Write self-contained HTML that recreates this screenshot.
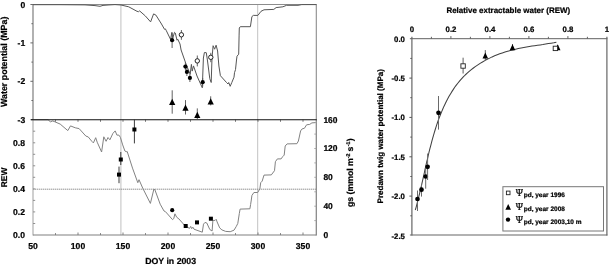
<!DOCTYPE html>
<html lang="en"><head><meta charset="utf-8"><title>Figure</title>
<style>html,body{margin:0;padding:0;background:#fff}svg{display:block}svg text{stroke:#000;stroke-width:0.22px;stroke-linejoin:round}</style></head>
<body>
<svg width="609" height="265" viewBox="0 0 609 265" font-family="'Liberation Sans', sans-serif" font-weight="bold" fill="#000" text-rendering="geometricPrecision">
<rect x="0" y="0" width="609" height="265" fill="#fff"/>
<line x1="120.9" y1="4.5" x2="120.9" y2="235.0" stroke="#cdcdcd" stroke-width="1.25"/>
<line x1="257.6" y1="4.5" x2="257.6" y2="235.0" stroke="#cdcdcd" stroke-width="1.25"/>
<line x1="33.0" y1="189.2" x2="316.3" y2="189.2" stroke="#8c8c8c" stroke-width="0.95" stroke-dasharray="1.4,0.6"/>
<line x1="33.0" y1="4.5" x2="316.3" y2="4.5" stroke="#8c8c8c" stroke-width="1"/>
<line x1="33.0" y1="4.0" x2="33.0" y2="119.7" stroke="#727272" stroke-width="1.1"/>
<line x1="33.0" y1="119.7" x2="33.0" y2="235.5" stroke="#a8a8a8" stroke-width="1.1"/>
<line x1="316.3" y1="4.0" x2="316.3" y2="119.7" stroke="#8c8c8c" stroke-width="1.1"/>
<line x1="316.3" y1="119.7" x2="316.3" y2="235.5" stroke="#858585" stroke-width="1.25"/>
<line x1="33.0" y1="235.0" x2="316.3" y2="235.0" stroke="#808080" stroke-width="1.05"/>
<line x1="30.4" y1="4.5" x2="33.0" y2="4.5" stroke="#6a6a6a" stroke-width="1"/>
<line x1="31.4" y1="23.7" x2="33.0" y2="23.7" stroke="#6a6a6a" stroke-width="1"/>
<line x1="30.4" y1="42.9" x2="33.0" y2="42.9" stroke="#6a6a6a" stroke-width="1"/>
<line x1="31.4" y1="62.1" x2="33.0" y2="62.1" stroke="#6a6a6a" stroke-width="1"/>
<line x1="30.4" y1="81.3" x2="33.0" y2="81.3" stroke="#6a6a6a" stroke-width="1"/>
<line x1="31.4" y1="100.5" x2="33.0" y2="100.5" stroke="#6a6a6a" stroke-width="1"/>
<line x1="30.4" y1="119.7" x2="33.0" y2="119.7" stroke="#6a6a6a" stroke-width="1"/>
<line x1="33.0" y1="131.2" x2="35.2" y2="131.2" stroke="#8c8c8c" stroke-width="0.95"/>
<line x1="33.0" y1="142.8" x2="35.2" y2="142.8" stroke="#8c8c8c" stroke-width="0.95"/>
<line x1="33.0" y1="154.3" x2="35.2" y2="154.3" stroke="#8c8c8c" stroke-width="0.95"/>
<line x1="33.0" y1="165.8" x2="35.2" y2="165.8" stroke="#8c8c8c" stroke-width="0.95"/>
<line x1="33.0" y1="177.3" x2="35.2" y2="177.3" stroke="#8c8c8c" stroke-width="0.95"/>
<line x1="33.0" y1="188.9" x2="35.2" y2="188.9" stroke="#8c8c8c" stroke-width="0.95"/>
<line x1="33.0" y1="200.4" x2="35.2" y2="200.4" stroke="#8c8c8c" stroke-width="0.95"/>
<line x1="33.0" y1="211.9" x2="35.2" y2="211.9" stroke="#8c8c8c" stroke-width="0.95"/>
<line x1="33.0" y1="223.5" x2="35.2" y2="223.5" stroke="#8c8c8c" stroke-width="0.95"/>
<line x1="314.3" y1="134.1" x2="316.3" y2="134.1" stroke="#a0a0a0" stroke-width="0.9"/>
<line x1="314.3" y1="148.5" x2="316.3" y2="148.5" stroke="#a0a0a0" stroke-width="0.9"/>
<line x1="314.3" y1="162.9" x2="316.3" y2="162.9" stroke="#a0a0a0" stroke-width="0.9"/>
<line x1="314.3" y1="177.3" x2="316.3" y2="177.3" stroke="#a0a0a0" stroke-width="0.9"/>
<line x1="314.3" y1="191.8" x2="316.3" y2="191.8" stroke="#a0a0a0" stroke-width="0.9"/>
<line x1="314.3" y1="206.2" x2="316.3" y2="206.2" stroke="#a0a0a0" stroke-width="0.9"/>
<line x1="314.3" y1="220.6" x2="316.3" y2="220.6" stroke="#a0a0a0" stroke-width="0.9"/>
<line x1="55.5" y1="119.7" x2="55.5" y2="121.9" stroke="#777" stroke-width="0.9"/>
<line x1="55.5" y1="233.1" x2="55.5" y2="235.0" stroke="#7c7c7c" stroke-width="0.95"/>
<line x1="78.0" y1="119.7" x2="78.0" y2="121.9" stroke="#777" stroke-width="0.9"/>
<line x1="78.0" y1="232.5" x2="78.0" y2="235.0" stroke="#7c7c7c" stroke-width="0.95"/>
<line x1="100.5" y1="119.7" x2="100.5" y2="121.9" stroke="#777" stroke-width="0.9"/>
<line x1="100.5" y1="233.1" x2="100.5" y2="235.0" stroke="#7c7c7c" stroke-width="0.95"/>
<line x1="123.0" y1="119.7" x2="123.0" y2="121.9" stroke="#777" stroke-width="0.9"/>
<line x1="123.0" y1="232.5" x2="123.0" y2="235.0" stroke="#7c7c7c" stroke-width="0.95"/>
<line x1="145.5" y1="119.7" x2="145.5" y2="121.9" stroke="#777" stroke-width="0.9"/>
<line x1="145.5" y1="233.1" x2="145.5" y2="235.0" stroke="#7c7c7c" stroke-width="0.95"/>
<line x1="168.0" y1="119.7" x2="168.0" y2="121.9" stroke="#777" stroke-width="0.9"/>
<line x1="168.0" y1="232.5" x2="168.0" y2="235.0" stroke="#7c7c7c" stroke-width="0.95"/>
<line x1="190.5" y1="119.7" x2="190.5" y2="121.9" stroke="#777" stroke-width="0.9"/>
<line x1="190.5" y1="233.1" x2="190.5" y2="235.0" stroke="#7c7c7c" stroke-width="0.95"/>
<line x1="213.0" y1="119.7" x2="213.0" y2="121.9" stroke="#777" stroke-width="0.9"/>
<line x1="213.0" y1="232.5" x2="213.0" y2="235.0" stroke="#7c7c7c" stroke-width="0.95"/>
<line x1="235.5" y1="119.7" x2="235.5" y2="121.9" stroke="#777" stroke-width="0.9"/>
<line x1="235.5" y1="233.1" x2="235.5" y2="235.0" stroke="#7c7c7c" stroke-width="0.95"/>
<line x1="258.0" y1="119.7" x2="258.0" y2="121.9" stroke="#777" stroke-width="0.9"/>
<line x1="258.0" y1="232.5" x2="258.0" y2="235.0" stroke="#7c7c7c" stroke-width="0.95"/>
<line x1="280.5" y1="119.7" x2="280.5" y2="121.9" stroke="#777" stroke-width="0.9"/>
<line x1="280.5" y1="233.1" x2="280.5" y2="235.0" stroke="#7c7c7c" stroke-width="0.95"/>
<line x1="303.0" y1="119.7" x2="303.0" y2="121.9" stroke="#777" stroke-width="0.9"/>
<line x1="303.0" y1="232.5" x2="303.0" y2="235.0" stroke="#7c7c7c" stroke-width="0.95"/>
<polyline points="33.0,119.8 48.1,119.8 50.4,121.8 52.7,121.0 54.9,121.8 60.2,124.1 67.8,130.6 70.5,125.9 75.3,127.8 79.1,128.6 85.9,136.1 88.2,136.9 91.9,141.4 93.4,142.9 95.7,137.7 97.2,142.2 101.6,152.0 103.8,136.8 106.1,141.3 108.0,137.5 109.9,139.8 112.9,133.4 115.2,130.9 116.9,135.1 118.9,135.1 120.4,137.4 122.7,144.9 124.9,151.0 126.2,151.7 127.2,151.5 132.5,168.1 137.8,182.7 139.0,179.7 142.8,188.3 150.4,203.4 153.9,189.1 154.9,189.8 160.2,204.2 164.0,211.0 165.5,211.7 172.5,219.6 173.8,218.5 174.9,213.8 176.7,217.2 178.9,218.9 184.9,225.7 189.5,228.4 190.7,226.4 191.7,228.7 192.9,227.2 194.0,229.2 202.3,232.2 203.5,224.2 205.0,222.4 206.8,223.0 209.8,229.5 212.1,231.0 212.9,220.4 215.1,220.4 216.2,219.3 217.1,221.9 219.7,227.9 221.9,229.9 225.7,231.4 230.2,231.7 234.0,230.2 236.3,226.4 237.8,223.4 239.3,213.6 240.1,209.1 249.9,208.8 250.6,204.5 251.3,200.0 251.9,195.5 253.9,192.5 257.7,192.5 259.9,188.7 260.7,182.7 262.2,181.1 264.0,175.1 271.3,174.9 274.5,170.7 275.4,161.7 277.4,158.9 281.1,158.9 282.7,156.6 284.2,155.1 285.2,146.0 287.1,143.9 296.9,143.7 298.4,141.0 300.6,130.9 302.1,128.9 304.4,128.3 306.6,124.8 309.7,124.4 311.9,122.9 315.7,122.6" fill="none" stroke="#828282" stroke-width="1" stroke-linejoin="round"/>
<polyline points="33.0,4.7 60.0,4.7 85.0,4.9 95.0,5.6 100.0,6.3 103.0,5.4 108.0,5.0 115.0,4.6 121.0,5.0 128.7,6.8 137.0,11.3 138.5,11.7 139.6,10.9 145.3,15.9 150.6,21.9 153.6,13.9 155.9,15.1 161.5,24.0 164.5,29.3 165.4,28.9 166.4,30.8 170.6,39.5 171.8,32.5 172.8,38.0 174.5,32.3 175.3,33.0 177.0,40.2 177.7,39.1 180.0,44.0 181.1,50.0 186.4,65.1 190.2,74.2 191.4,64.4 192.2,71.1 193.5,65.9 197.0,76.0 202.3,87.8 203.4,58.0 204.4,52.5 206.3,52.7 207.4,60.0 209.8,78.7 211.2,82.5 212.0,58.0 213.1,45.7 214.6,49.2 216.1,45.2 217.6,51.0 218.9,66.0 220.4,75.7 226.5,82.5 228.0,84.0 228.7,82.5 230.2,86.3 231.8,82.5 234.0,77.2 234.5,72.7 235.5,69.6 236.5,60.0 237.0,56.2 238.7,54.2 239.1,35.1 239.3,28.0 240.3,26.7 250.4,26.7 251.9,16.6 253.4,15.4 257.9,15.4 261.0,11.3 264.0,9.8 273.8,9.4 276.1,7.6 282.9,6.8 286.6,5.3 298.0,5.3 301.8,4.6 316.3,4.6" fill="none" stroke="#555" stroke-width="1" stroke-linejoin="round"/>
<line x1="31.0" y1="119.7" x2="316.8" y2="119.7" stroke="#111" stroke-width="1.1"/>
<line x1="172.1" y1="32.5" x2="172.1" y2="48" stroke="#5a5a5a" stroke-width="0.95"/>
<circle cx="172.1" cy="40.2" r="2.1" fill="#000"/>
<line x1="185.4" y1="62" x2="185.4" y2="70" stroke="#5a5a5a" stroke-width="0.95"/>
<circle cx="185.4" cy="66.6" r="2.1" fill="#000"/>
<line x1="186.9" y1="68" x2="186.9" y2="76" stroke="#5a5a5a" stroke-width="0.95"/>
<circle cx="186.9" cy="71.9" r="2.1" fill="#000"/>
<line x1="189.9" y1="74" x2="189.9" y2="82" stroke="#5a5a5a" stroke-width="0.95"/>
<circle cx="189.9" cy="77.9" r="2.1" fill="#000"/>
<line x1="202.7" y1="78" x2="202.7" y2="86.5" stroke="#5a5a5a" stroke-width="0.95"/>
<circle cx="202.7" cy="82.2" r="2.1" fill="#000"/>
<line x1="181.4" y1="30" x2="181.4" y2="39.8" stroke="#5a5a5a" stroke-width="0.95"/>
<circle cx="181.4" cy="34.8" r="2.2" fill="#fff" stroke="#222" stroke-width="1"/>
<line x1="197.3" y1="55.5" x2="197.3" y2="66.4" stroke="#5a5a5a" stroke-width="0.95"/>
<circle cx="197.3" cy="60.9" r="2.2" fill="#fff" stroke="#222" stroke-width="1"/>
<line x1="210.8" y1="52.8" x2="210.8" y2="62.2" stroke="#5a5a5a" stroke-width="0.95"/>
<circle cx="210.8" cy="57.3" r="2.2" fill="#fff" stroke="#222" stroke-width="1"/>
<line x1="172.2" y1="90.3" x2="172.2" y2="113.7" stroke="#5a5a5a" stroke-width="0.95"/>
<polygon points="172.2,98.8 175.3,105.0 169.1,105.0" fill="#000"/>
<line x1="185.5" y1="100.1" x2="185.5" y2="114.5" stroke="#5a5a5a" stroke-width="0.95"/>
<polygon points="185.5,104.6 188.6,110.8 182.4,110.8" fill="#000"/>
<line x1="197.3" y1="108.4" x2="197.3" y2="119" stroke="#5a5a5a" stroke-width="0.95"/>
<polygon points="197.3,111.8 200.4,118.0 194.2,118.0" fill="#000"/>
<line x1="210.7" y1="96.3" x2="210.7" y2="105.4" stroke="#5a5a5a" stroke-width="0.95"/>
<polygon points="210.7,98.2 213.8,104.4 207.6,104.4" fill="#000"/>
<line x1="134.4" y1="119.5" x2="134.4" y2="143.4" stroke="#333" stroke-width="0.95"/>
<rect x="132.4" y="127.5" width="4.0" height="4.0" fill="#000"/>
<line x1="120.8" y1="152" x2="120.8" y2="165" stroke="#333" stroke-width="0.95"/>
<rect x="118.8" y="157.5" width="4.0" height="4.0" fill="#000"/>
<line x1="119" y1="166.6" x2="119" y2="183.2" stroke="#333" stroke-width="0.95"/>
<rect x="117.0" y="172.6" width="4.0" height="4.0" fill="#000"/>
<rect x="183.7" y="224.0" width="4.0" height="4.0" fill="#000"/>
<rect x="195.0" y="220.4" width="4.0" height="4.0" fill="#000"/>
<rect x="208.9" y="216.7" width="4.0" height="4.0" fill="#000"/>
<circle cx="172.2" cy="210.2" r="2.1" fill="#000"/>
<text x="25.2" y="7.7" font-size="8.6" text-anchor="end" >0</text>
<text x="25.2" y="46.3" font-size="8.6" text-anchor="end" >-1</text>
<text x="25.2" y="83.9" font-size="8.6" text-anchor="end" >-2</text>
<text x="25.2" y="123.0" font-size="8.6" text-anchor="end" >-3</text>
<text x="25.0" y="145.6" font-size="8.6" text-anchor="end" >0.8</text>
<text x="25.0" y="168.8" font-size="8.6" text-anchor="end" >0.6</text>
<text x="25.0" y="192.1" font-size="8.6" text-anchor="end" >0.4</text>
<text x="25.0" y="215.2" font-size="8.6" text-anchor="end" >0.2</text>
<text x="25.0" y="238.2" font-size="8.6" text-anchor="end" >0.0</text>
<text x="33.0" y="249.0" font-size="8.6" text-anchor="middle" >50</text>
<text x="78.0" y="249.0" font-size="8.6" text-anchor="middle" >100</text>
<text x="123.0" y="249.0" font-size="8.6" text-anchor="middle" >150</text>
<text x="168.0" y="249.0" font-size="8.6" text-anchor="middle" >200</text>
<text x="213.0" y="249.0" font-size="8.6" text-anchor="middle" >250</text>
<text x="258.0" y="249.0" font-size="8.6" text-anchor="middle" >300</text>
<text x="303.0" y="249.0" font-size="8.6" text-anchor="middle" >350</text>
<text x="323.4" y="122.60000000000001" font-size="8.45" text-anchor="start" >160</text>
<text x="323.4" y="150.9" font-size="8.45" text-anchor="start" >120</text>
<text x="323.4" y="179.70000000000002" font-size="8.45" text-anchor="start" >80</text>
<text x="323.4" y="209.4" font-size="8.45" text-anchor="start" >40</text>
<text x="323.4" y="238.4" font-size="8.45" text-anchor="start" >0</text>
<text x="145.2" y="264.0" font-size="8.75" text-anchor="start" >DOY in 2003</text>
<text transform="translate(7.4,107) rotate(-90)" font-size="8.9">Water potential (MPa)</text>
<text transform="translate(7.0,187.2) rotate(-90)" font-size="8.4">REW</text>
<text transform="translate(352.7,207) rotate(-90)" font-size="8.7">gs (mmol m<tspan font-size="5.4" dy="-3.2">-2</tspan><tspan dy="3.2" dx="-0.4"> s</tspan><tspan font-size="5.4" dy="-3.2" dx="0.3">-1</tspan><tspan dy="3.2" dx="0.3">)</tspan></text>
<line x1="409.9" y1="38.7" x2="607.4" y2="38.7" stroke="#606060" stroke-width="1.0"/>
<line x1="411.9" y1="36.7" x2="411.9" y2="235.5" stroke="#666" stroke-width="1.2"/>
<line x1="606.9" y1="36.7" x2="606.9" y2="235.5" stroke="#666" stroke-width="1.2"/>
<line x1="409.9" y1="235.0" x2="607.4" y2="235.0" stroke="#666" stroke-width="1.1"/>
<line x1="431.4" y1="36.800000000000004" x2="431.4" y2="38.7" stroke="#5c5c5c" stroke-width="0.95"/>
<line x1="450.9" y1="36.1" x2="450.9" y2="38.7" stroke="#5c5c5c" stroke-width="0.95"/>
<line x1="470.4" y1="36.800000000000004" x2="470.4" y2="38.7" stroke="#5c5c5c" stroke-width="0.95"/>
<line x1="489.9" y1="36.1" x2="489.9" y2="38.7" stroke="#5c5c5c" stroke-width="0.95"/>
<line x1="509.4" y1="36.800000000000004" x2="509.4" y2="38.7" stroke="#5c5c5c" stroke-width="0.95"/>
<line x1="528.9" y1="36.1" x2="528.9" y2="38.7" stroke="#5c5c5c" stroke-width="0.95"/>
<line x1="548.4" y1="36.800000000000004" x2="548.4" y2="38.7" stroke="#5c5c5c" stroke-width="0.95"/>
<line x1="567.9" y1="36.1" x2="567.9" y2="38.7" stroke="#5c5c5c" stroke-width="0.95"/>
<line x1="587.4" y1="36.800000000000004" x2="587.4" y2="38.7" stroke="#5c5c5c" stroke-width="0.95"/>
<line x1="410.29999999999995" y1="58.4" x2="411.9" y2="58.4" stroke="#555" stroke-width="1"/>
<line x1="409.4" y1="78.1" x2="411.9" y2="78.1" stroke="#555" stroke-width="1"/>
<line x1="410.29999999999995" y1="97.7" x2="411.9" y2="97.7" stroke="#555" stroke-width="1"/>
<line x1="409.4" y1="117.4" x2="411.9" y2="117.4" stroke="#555" stroke-width="1"/>
<line x1="410.29999999999995" y1="137.1" x2="411.9" y2="137.1" stroke="#555" stroke-width="1"/>
<line x1="409.4" y1="156.8" x2="411.9" y2="156.8" stroke="#555" stroke-width="1"/>
<line x1="410.29999999999995" y1="176.5" x2="411.9" y2="176.5" stroke="#555" stroke-width="1"/>
<line x1="409.4" y1="196.1" x2="411.9" y2="196.1" stroke="#555" stroke-width="1"/>
<line x1="410.29999999999995" y1="215.8" x2="411.9" y2="215.8" stroke="#555" stroke-width="1"/>
<polyline points="415.3,210.0 416.1,207.3 416.8,204.6 417.5,201.8 418.2,199.2 418.8,196.5 419.5,193.8 420.1,191.1 420.8,188.4 421.4,185.8 422.0,183.1 422.6,180.5 423.2,177.8 423.8,175.2 424.4,172.5 424.9,169.9 425.5,167.3 426.1,164.6 426.7,162.0 427.4,159.3 428.0,156.7 428.6,154.0 429.2,151.4 429.9,148.7 430.6,146.1 431.3,143.4 432.0,140.7 432.7,138.1 433.5,135.4 434.3,132.7 435.1,130.0 435.9,127.4 436.8,124.7 437.7,122.0 438.6,119.4 439.6,116.8 440.6,114.2 441.7,111.6 442.8,109.0 443.9,106.4 445.1,103.9 446.3,101.4 447.6,99.0 448.9,96.6 450.3,94.2 451.7,91.9 453.2,89.6 454.7,87.3 456.3,85.1 458.0,83.0 459.7,80.9 461.5,78.9 463.3,76.9 465.2,75.0 467.2,73.2 469.2,71.4 471.3,69.7 473.4,68.0 475.6,66.4 477.9,64.9 480.1,63.4 482.5,62.0 484.8,60.6 487.2,59.3 489.7,58.1 492.1,56.9 494.6,55.8 497.2,54.8 499.7,53.8 502.3,52.9 505.0,52.1 507.6,51.3 510.3,50.6 512.9,49.9 515.6,49.2 518.3,48.6 521.1,48.1 523.8,47.6 526.5,47.1 529.3,46.6 532.0,46.1 534.7,45.7 537.5,45.3 540.2,44.9 542.9,44.5 545.7,44.0 548.4,43.6 551.1,43.2 553.8,42.8 556.4,42.3" fill="none" stroke="#404040" stroke-width="1.05" stroke-linejoin="round"/>
<line x1="417.5" y1="190.5" x2="417.5" y2="211" stroke="#6a6a6a" stroke-width="1.0"/>
<circle cx="417.5" cy="199.0" r="2.35" fill="#000"/>
<line x1="421.5" y1="184" x2="421.5" y2="196.6" stroke="#6a6a6a" stroke-width="1.0"/>
<circle cx="421.5" cy="189.7" r="2.35" fill="#000"/>
<line x1="425.7" y1="167.5" x2="425.7" y2="188.7" stroke="#6a6a6a" stroke-width="1.0"/>
<circle cx="425.7" cy="176.5" r="2.35" fill="#000"/>
<line x1="427.6" y1="153.5" x2="427.6" y2="180" stroke="#6a6a6a" stroke-width="1.0"/>
<circle cx="427.6" cy="166.8" r="2.35" fill="#000"/>
<line x1="438.5" y1="96.0" x2="438.5" y2="129.6" stroke="#6a6a6a" stroke-width="1.0"/>
<circle cx="438.5" cy="112.8" r="2.35" fill="#000"/>
<line x1="485.3" y1="50.1" x2="485.3" y2="60" stroke="#555" stroke-width="0.95"/>
<polygon points="485.3,52.4 488.1,58.4 482.5,58.4" fill="#000"/>
<line x1="512.5" y1="44" x2="512.5" y2="50" stroke="#555" stroke-width="0.95"/>
<polygon points="512.5,44.2 515.3,50.2 509.7,50.2" fill="#000"/>
<line x1="557.7" y1="45" x2="557.7" y2="50" stroke="#555" stroke-width="0.95"/>
<polygon points="557.7,44.2 560.5,50.2 554.9,50.2" fill="#000"/>
<line x1="463.1" y1="57.7" x2="463.1" y2="73.5" stroke="#555" stroke-width="0.95"/>
<rect x="460.9" y="63.8" width="4.4" height="4.4" fill="#fff" stroke="#222" stroke-width="0.9"/>
<line x1="555.4" y1="46.5" x2="555.4" y2="50.5" stroke="#555" stroke-width="0.95"/>
<rect x="553.2" y="46.2" width="4.4" height="4.4" fill="#fff" stroke="#222" stroke-width="0.9"/>
<text x="446.4" y="13.3" font-size="7.96" text-anchor="start" >Relative extractable water (REW)</text>
<text x="412.0" y="32.2" font-size="7.8" text-anchor="middle" >0</text>
<text x="451.0" y="32.2" font-size="7.8" text-anchor="middle" >0.2</text>
<text x="490.0" y="32.2" font-size="7.8" text-anchor="middle" >0.4</text>
<text x="529.0" y="32.2" font-size="7.8" text-anchor="middle" >0.6</text>
<text x="568.0" y="32.2" font-size="7.8" text-anchor="middle" >0.8</text>
<text x="607.0" y="32.2" font-size="7.8" text-anchor="middle" >1</text>
<text x="404.9" y="41.7" font-size="7.8" text-anchor="end" >0.0</text>
<text x="404.9" y="81.1" font-size="7.8" text-anchor="end" >-0.5</text>
<text x="404.9" y="120.4" font-size="7.8" text-anchor="end" >-1.0</text>
<text x="404.9" y="159.8" font-size="7.8" text-anchor="end" >-1.5</text>
<text x="404.9" y="199.1" font-size="7.8" text-anchor="end" >-2.0</text>
<text x="404.9" y="238.5" font-size="7.8" text-anchor="end" >-2.5</text>
<text transform="translate(383.4,203.4) rotate(-90)" font-size="8.0">Predawn twig water potential (MPa)</text>
<rect x="502.9" y="186.7" width="100.6" height="44.3" fill="#fff" stroke="#777" stroke-width="1"/>
<rect x="506.4" y="191.1" width="3.6" height="3.6" fill="#fff" stroke="#222" stroke-width="0.9"/>
<polygon points="508.2,204.1 511.0,209.7 505.4,209.7" fill="#000"/>
<circle cx="508.0" cy="219.6" r="2.2" fill="#000"/>
<text transform="translate(515.8,195.9) scale(0.92,1)" font-family="'Liberation Serif', 'DejaVu Serif', serif" font-weight="normal" font-size="10.6" stroke="#000" stroke-width="0.15">&#936;</text>
<text x="523.7" y="197.0" font-size="6.5">pd, year 1996</text>
<text transform="translate(515.8,209.7) scale(0.92,1)" font-family="'Liberation Serif', 'DejaVu Serif', serif" font-weight="normal" font-size="10.6" stroke="#000" stroke-width="0.15">&#936;</text>
<text x="523.7" y="210.8" font-size="6.5">pd, year 2008</text>
<text transform="translate(515.8,222.5) scale(0.92,1)" font-family="'Liberation Serif', 'DejaVu Serif', serif" font-weight="normal" font-size="10.6" stroke="#000" stroke-width="0.15">&#936;</text>
<text x="523.7" y="223.6" font-size="6.5">pd, year 2003,10 m</text>
</svg>
</body></html>
